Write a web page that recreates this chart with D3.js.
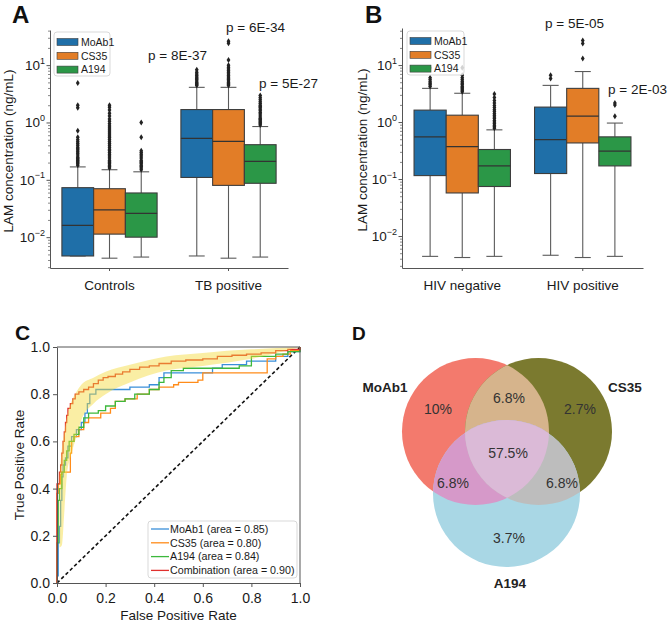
<!DOCTYPE html>
<html><head><meta charset="utf-8">
<script src="https://cdn.jsdelivr.net/npm/d3@7"></script>
<style>
body{margin:0;background:#fff;}
svg{display:block;font-family:"Liberation Sans",Arial,Helvetica,sans-serif;}
</style>
</head><body>
<svg id="c" width="669" height="623"></svg>
<script>
// ---------------- DATA ----------------
const assays = ["MoAb1", "CS35", "A194"];
const boxColors = ["#1f6fa8", "#e27d27", "#2b9747"];
const groupsA = ["Controls", "TB positive"];
const groupsB = ["HIV negative", "HIV positive"];
const logMajorTicks = [0.01, 0.1, 1, 10];
const logTickExponents = ["−2", "−1", "0", "1"];

// [lower whisker, Q1, median, Q3, upper whisker] per assay (MoAb1, CS35, A194)
const controlsStats = [[0.0047, 0.0047, 0.016, 0.073, 0.168], [0.0043, 0.0113, 0.030, 0.070, 0.150], [0.0045, 0.010, 0.026, 0.059, 0.138]];
const tbStats = [[0.0047, 0.11, 0.53, 1.68, 4.1], [0.0043, 0.08, 0.47, 1.68, 4.1], [0.0045, 0.087, 0.21, 0.41, 0.85]];
const hivNegStats = [[0.0044, 0.115, 0.55, 1.62, 3.9], [0.0042, 0.057, 0.37, 1.32, 3.2], [0.0044, 0.074, 0.17, 0.33, 0.73]];
const hivPosStats = [[0.0046, 0.125, 0.49, 1.83, 4.4], [0.0042, 0.43, 1.27, 3.9, 7.7], [0.0044, 0.17, 0.31, 0.55, 0.96]];

// outliers per assay
const controlsOut = [
  [0.18, 0.19, 0.2, 0.21, 0.22, 0.23, 0.24, 0.25, 0.27, 0.29, 0.31, 0.33, 0.35, 0.37, 0.4, 0.43, 0.46, 0.5, 0.55, 0.72, 1.8, 2.0, 4.9],
  [0.16, 0.17, 0.18, 0.19, 0.2, 0.21, 0.22, 0.24, 0.26, 0.28, 0.3, 0.32, 0.34, 0.37, 0.4, 0.43, 0.46, 0.5, 0.54, 0.58, 0.63, 0.68, 0.74, 0.8, 0.87, 0.95, 1.05, 1.15, 1.3, 1.45, 1.65, 1.85, 2.0],
  [0.15, 0.16, 0.17, 0.18, 0.19, 0.2, 0.21, 0.22, 0.24, 0.26, 0.28, 0.3, 0.32, 0.55, 1.0]
];
const tbOut = [
  [4.4, 4.6, 4.8, 5.0, 5.3, 5.6, 5.9, 6.2, 6.6, 7.0, 7.5, 8.3],
  [4.4, 4.6, 4.8, 5.0, 5.3, 5.6, 5.9, 6.2, 6.6, 7.0, 7.5, 8.0, 8.6, 9.2, 10, 12.3, 24, 26],
  [0.9, 0.95, 1.0, 1.05, 1.1, 1.15, 1.2, 1.3, 1.4, 1.5, 1.6, 1.7, 1.8, 1.9, 2.0, 2.15, 2.3, 2.5, 2.7, 2.95]
];
const hivNegOut = [
  [4.2, 4.5, 4.8, 5.1, 5.5, 6.0, 9.0],
  [3.4, 3.6, 3.8, 4.0, 4.2, 4.5, 4.8, 5.1, 5.5, 6.0, 6.6, 9.0],
  [0.78, 0.83, 0.88, 0.94, 1.0, 1.07, 1.15, 1.23, 1.32, 1.42, 1.53, 1.65, 1.8, 1.95, 2.15, 2.4, 2.7, 3.1]
];
const hivPosOut = [[5.8, 6.6], [13, 24, 27], [1.27, 2.0, 2.15]];

const pLabelsA = ["p = 8E-37", "p = 6E-34", "p = 5E-27"];
const pLabelsB = ["p = 5E-05", "p = 2E-03"];

// ROC curves [fpr, tpr]
const rocMoAb1 = [[0,0],[0,0.03],[0.005,0.17],[0.01,0.24],[0.015,0.35],[0.02,0.45],[0.025,0.5],[0.035,0.53],[0.045,0.58],[0.06,0.62],[0.08,0.65],[0.1,0.68],[0.115,0.72],[0.125,0.76],[0.135,0.8],[0.16,0.82],[0.3,0.83],[0.38,0.84],[0.42,0.87],[0.44,0.89],[0.64,0.91],[0.68,0.925],[0.78,0.94],[0.9,0.96],[0.95,0.98],[1,1]];
const rocCS35 = [[0,0],[0,0.38],[0.005,0.42],[0.015,0.46],[0.02,0.47],[0.055,0.55],[0.06,0.6],[0.07,0.62],[0.09,0.65],[0.11,0.68],[0.13,0.7],[0.18,0.72],[0.22,0.74],[0.24,0.77],[0.28,0.78],[0.33,0.8],[0.38,0.82],[0.42,0.83],[0.48,0.84],[0.5,0.85],[0.58,0.86],[0.6,0.89],[0.865,0.95],[0.9,0.96],[0.93,0.97],[0.96,0.985],[1,1]];
const rocA194 = [[0,0],[0,0.17],[0.005,0.35],[0.01,0.4],[0.02,0.47],[0.03,0.52],[0.04,0.56],[0.05,0.6],[0.07,0.63],[0.09,0.66],[0.11,0.7],[0.13,0.72],[0.17,0.73],[0.2,0.75],[0.24,0.77],[0.28,0.78],[0.32,0.8],[0.38,0.82],[0.42,0.85],[0.44,0.87],[0.47,0.9],[0.52,0.91],[0.75,0.92],[0.8,0.96],[0.9,0.97],[0.95,0.98],[1,1]];
const rocCombination = [[0,0],[0,0.42],[0.01,0.47],[0.015,0.5],[0.02,0.55],[0.025,0.6],[0.03,0.64],[0.035,0.68],[0.04,0.71],[0.045,0.74],[0.055,0.76],[0.065,0.78],[0.075,0.8],[0.09,0.81],[0.11,0.82],[0.13,0.83],[0.15,0.845],[0.17,0.86],[0.19,0.87],[0.21,0.875],[0.24,0.885],[0.27,0.895],[0.3,0.905],[0.34,0.915],[0.38,0.92],[0.42,0.93],[0.47,0.94],[0.53,0.945],[0.6,0.95],[0.66,0.96],[0.72,0.965],[0.78,0.97],[0.84,0.975],[0.9,0.985],[0.95,0.99],[1,1]];
const rocNames = ["MoAb1 (area = 0.85)", "CS35 (area = 0.80)", "A194 (area = 0.84)", "Combination (area = 0.90)"];
const rocColors = ["#3a8fd9", "#ff8c1a", "#3cb83c", "#e0302e"];
const bandFpr = [0.01,0.02,0.03,0.04,0.06,0.08,0.1,0.15,0.2,0.3,0.45,0.6,0.8,1.0];
const bandHi  = [0.45,0.57,0.64,0.7,0.77,0.81,0.84,0.87,0.895,0.925,0.96,0.975,0.99,1.0];
const bandLo  = [0.15,0.16,0.3,0.45,0.55,0.62,0.69,0.76,0.8,0.85,0.9,0.92,0.95,1.0];
const rocTicks = [0, 0.2, 0.4, 0.6, 0.8, 1.0];

// Venn
const vennSets = ["MoAb1", "CS35", "A194"];
const vennRegionLabels = ["10%", "2.7%", "3.7%", "6.8%", "6.8%", "6.8%", "57.5%"]; // M, C, A, MC, MA, CA, MCA

// ---------------- DRAW ----------------
const svg = d3.select("#c");
const INK = "#1a1a1a";
const SPINE = "#555";

function boxPanel(o) {
  const g = svg.append("g");
  const y = d3.scaleLog().domain(o.yDomain).range([o.yBot, o.yTop]);
  const x = d3.scaleBand().domain(o.groups).range([o.x0, o.x1]).paddingInner(0.2).paddingOuter(0.1);
  const xi = d3.scaleBand().domain(assays).range([0, x.bandwidth()]);

  const minors = [];
  for (let d = -3; d <= 1; d++) for (let k = 2; k <= 9; k++) {
    const v = k * Math.pow(10, d);
    if (v >= o.yDomain[0] && v <= o.yDomain[1]) minors.push(v);
  }
  g.append("g").attr("transform", `translate(${o.x0},0)`)
    .call(d3.axisLeft(y).tickValues(minors).tickSize(2).tickSizeOuter(0).tickFormat(""))
    .call(a => a.select(".domain").remove())
    .call(a => a.selectAll("line").attr("stroke", SPINE).attr("stroke-width", 0.7));
  const ay = g.append("g").attr("transform", `translate(${o.x0},0)`)
    .call(d3.axisLeft(y).tickValues(logMajorTicks).tickSize(3.5).tickSizeOuter(0).tickFormat(""));
  ay.select(".domain").attr("stroke", SPINE);
  ay.selectAll("line").attr("stroke", SPINE);
  logMajorTicks.forEach((v, i) => {
    const t = g.append("text").attr("x", o.x0 - 5).attr("y", y(v) + 5)
      .attr("text-anchor", "end").attr("font-size", 13.5).attr("fill", INK);
    t.append("tspan").text("10");
    t.append("tspan").attr("dy", -6.5).attr("font-size", 9).text(logTickExponents[i]);
  });

  const ax = g.append("g").attr("transform", `translate(0,${o.yBot})`)
    .call(d3.axisBottom(x).tickSize(3).tickSizeOuter(0));
  ax.select(".domain").attr("stroke", SPINE);
  ax.selectAll("line").attr("stroke", SPINE);
  ax.selectAll("text").attr("font-size", 13.5).attr("fill", INK)
    .attr("font-family", '"Liberation Sans",Arial,sans-serif').attr("dy", "1.15em");

  g.append("text").attr("transform", `translate(${o.ylabelX},${(o.yTop + o.yBot) / 2 + 2}) rotate(-90)`)
    .attr("text-anchor", "middle").attr("font-size", 13.5).attr("fill", INK)
    .text("LAM concentration (ng/mL)");

  o.groups.forEach((grp, gi) => {
    assays.forEach((as, ai) => {
      const s = o.stats[gi][ai];
      const bx = x(grp) + xi(as), bw = xi.bandwidth(), cx = bx + bw / 2;
      const lc = "#5a5a5a";
      g.append("line").attr("x1", cx).attr("x2", cx).attr("y1", y(s[3])).attr("y2", y(s[4])).attr("stroke", lc).attr("stroke-width", 1.1);
      g.append("line").attr("x1", cx).attr("x2", cx).attr("y1", y(s[1])).attr("y2", y(s[0])).attr("stroke", lc).attr("stroke-width", 1.1);
      g.append("line").attr("x1", cx - bw / 4).attr("x2", cx + bw / 4).attr("y1", y(s[4])).attr("y2", y(s[4])).attr("stroke", lc).attr("stroke-width", 1.1);
      g.append("line").attr("x1", cx - bw / 4).attr("x2", cx + bw / 4).attr("y1", y(s[0])).attr("y2", y(s[0])).attr("stroke", lc).attr("stroke-width", 1.1);
      g.append("rect").attr("x", bx).attr("width", bw).attr("y", y(s[3])).attr("height", y(s[1]) - y(s[3]))
        .attr("fill", boxColors[ai]).attr("stroke", "#3d3d3d").attr("stroke-width", 1.1);
      g.append("line").attr("x1", bx).attr("x2", bx + bw).attr("y1", y(s[2])).attr("y2", y(s[2])).attr("stroke", "#333").attr("stroke-width", 1.3);
      g.selectAll(null).data(o.outs[gi][ai]).enter().append("path")
        .attr("d", "M0,-3L1.9,0L0,3L-1.9,0Z")
        .attr("transform", d => `translate(${cx},${y(d)})`)
        .attr("fill", "#222");
    });
  });

  o.pLabels.forEach((p, i) => {
    g.append("text").attr("x", o.pPos[i][0]).attr("y", o.pPos[i][1])
      .attr("font-size", 13.5).attr("fill", INK).text(p);
  });

  const L = o.legend;
  const lg = g.append("g");
  lg.append("rect").attr("x", L.x).attr("y", L.y).attr("width", L.w).attr("height", L.h).attr("rx", 3)
    .attr("fill", "#fff").attr("fill-opacity", 0.8).attr("stroke", "#cfcfcf").attr("stroke-width", 0.8);
  assays.forEach((as, i) => {
    const cy = L.y + 10 + i * 13.8;
    lg.append("rect").attr("x", L.x + 3).attr("y", cy - 3.5).attr("width", 21).attr("height", 7)
      .attr("fill", boxColors[i]).attr("stroke", "#3d3d3d").attr("stroke-width", 0.6);
    lg.append("text").attr("x", L.x + 27).attr("y", cy + 3.8).attr("font-size", 10.5).attr("fill", INK).text(as);
  });

  svg.append("text").attr("x", o.letterPos[0]).attr("y", o.letterPos[1]).attr("font-size", 24)
    .attr("font-weight", "bold").attr("fill", "#111").text(o.letter);
}

boxPanel({
  x0: 50, x1: 288, yTop: 30, yBot: 268, yDomain: [0.0029, 41],
  groups: groupsA, stats: [controlsStats, tbStats], outs: [controlsOut, tbOut],
  pLabels: pLabelsA, pPos: [[148, 60], [226, 32], [259, 88]],
  legend: { x: 54, y: 32, w: 56, h: 44 }, ylabelX: 13, letter: "A", letterPos: [12, 23]
});
boxPanel({
  x0: 402, x1: 643, yTop: 28, yBot: 268, yDomain: [0.00275, 44.7],
  groups: groupsB, stats: [hivNegStats, hivPosStats], outs: [hivNegOut, hivPosOut],
  pLabels: pLabelsB, pPos: [[545, 28], [608, 94]],
  legend: { x: 407, y: 31, w: 57, h: 44 }, ylabelX: 367, letter: "B", letterPos: [365, 23]
});

// ---------------- ROC ----------------
(function () {
  const g = svg.append("g");
  const x = d3.scaleLinear().domain([0, 1]).range([57, 300]);
  const y = d3.scaleLinear().domain([0, 1]).range([583, 347]);
  const curves = [rocMoAb1, rocCS35, rocA194, rocCombination];
  const line = d3.line().x(d => x(d[0])).y(d => y(d[1])).curve(d3.curveStepAfter);
  g.append("line").attr("x1", x(0)).attr("y1", y(0)).attr("x2", x(1)).attr("y2", y(1))
    .attr("stroke", "#111").attr("stroke-width", 1.6).attr("stroke-dasharray", "3.5,2.5");
  curves.forEach((c, i) => {
    g.append("path").attr("d", line(c)).attr("fill", "none").attr("stroke", rocColors[i]).attr("stroke-width", 1.3);
  });
  const band = bandFpr.map((f, i) => [f, bandLo[i], bandHi[i]]);
  g.append("path").attr("d", d3.area().x(d => x(d[0])).y0(d => y(d[1])).y1(d => y(d[2])).curve(d3.curveMonotoneX)(band))
    .attr("fill", "#f3d935").attr("fill-opacity", 0.45);

  const fmt = d3.format(".1f");
  const ax = g.append("g").attr("transform", `translate(0,${y(0)})`)
    .call(d3.axisBottom(x).tickValues(rocTicks).tickFormat(fmt).tickSize(4).tickSizeOuter(0));
  const ay = g.append("g").attr("transform", `translate(${x(0)},0)`)
    .call(d3.axisLeft(y).tickValues(rocTicks).tickFormat(fmt).tickSize(4).tickSizeOuter(0));
  [ax, ay].forEach(a => {
    a.select(".domain").attr("stroke", SPINE);
    a.selectAll("line").attr("stroke", SPINE);
    a.selectAll("text").attr("font-size", 14).attr("fill", INK).attr("font-family", '"Liberation Sans",Arial,sans-serif');
  });
  ax.selectAll("text").attr("dy", "0.95em");
  g.append("line").attr("x1", x(0)).attr("x2", x(1)).attr("y1", y(1)).attr("y2", y(1)).attr("stroke", SPINE);
  g.append("line").attr("x1", x(1)).attr("x2", x(1)).attr("y1", y(0)).attr("y2", y(1)).attr("stroke", SPINE);

  g.append("text").attr("x", (x(0) + x(1)) / 2).attr("y", 620).attr("text-anchor", "middle")
    .attr("font-size", 13.5).attr("fill", INK).text("False Positive Rate");
  g.append("text").attr("transform", `translate(24,${(y(0) + y(1)) / 2}) rotate(-90)`).attr("text-anchor", "middle")
    .attr("font-size", 13.5).attr("fill", INK).text("True Positive Rate");

  const lg = g.append("g");
  lg.append("rect").attr("x", 148).attr("y", 521).attr("width", 149).attr("height", 57).attr("rx", 3)
    .attr("fill", "#fff").attr("fill-opacity", 0.85).attr("stroke", "#cfcfcf").attr("stroke-width", 0.8);
  rocNames.forEach((n, i) => {
    const cy = 529 + i * 13.8;
    lg.append("line").attr("x1", 151).attr("x2", 169).attr("y1", cy).attr("y2", cy).attr("stroke", rocColors[i]).attr("stroke-width", 1.3);
    lg.append("text").attr("x", 170).attr("y", cy + 3.8).attr("font-size", 10.7).attr("fill", INK).text(n);
  });

  svg.append("text").attr("x", 15).attr("y", 340).attr("font-size", 21).attr("font-weight", "bold").attr("fill", "#111").text("C");
})();

// ---------------- VENN ----------------
(function () {
  const g = svg.append("g");
  const r = 73.5;
  const cM = [475.5, 431.5], cC = [538.5, 431.5], cA = [506.5, 493.5];
  const defs = svg.append("defs");
  defs.append("clipPath").attr("id", "clipM").append("circle").attr("cx", cM[0]).attr("cy", cM[1]).attr("r", r);
  defs.append("clipPath").attr("id", "clipC").append("circle").attr("cx", cC[0]).attr("cy", cC[1]).attr("r", r);
  const circ = (sel, c, fill) => sel.append("circle").attr("cx", c[0]).attr("cy", c[1]).attr("r", r).attr("fill", fill);
  circ(g, cM, "#f37a6d");
  circ(g, cC, "#7b7a2f");
  circ(g.append("g").attr("clip-path", "url(#clipM)"), cC, "#d6b48c");
  circ(g, cA, "#a9d7e5");
  circ(g.append("g").attr("clip-path", "url(#clipM)"), cA, "#d699c9");
  circ(g.append("g").attr("clip-path", "url(#clipC)"), cA, "#bdbdbd");
  circ(g.append("g").attr("clip-path", "url(#clipC)").append("g").attr("clip-path", "url(#clipM)"), cA, "#dbbad7");

  const pos = [[438, 409], [580, 409], [509, 538], [509, 398], [453, 483], [562, 483], [508, 453]];
  vennRegionLabels.forEach((t, i) => {
    g.append("text").attr("x", pos[i][0]).attr("y", pos[i][1] + 5).attr("text-anchor", "middle")
      .attr("font-size", 14).attr("fill", "#333").text(t);
  });
  const namePos = [[385, 392], [625, 392], [510, 588]];
  vennSets.forEach((n, i) => {
    g.append("text").attr("x", namePos[i][0]).attr("y", namePos[i][1]).attr("text-anchor", "middle")
      .attr("font-size", 13.5).attr("font-weight", "bold").attr("fill", "#222").text(n);
  });
  svg.append("text").attr("x", 352).attr("y", 340).attr("font-size", 19).attr("font-weight", "bold").attr("fill", "#111").text("D");
})();
</script>
</body></html>
